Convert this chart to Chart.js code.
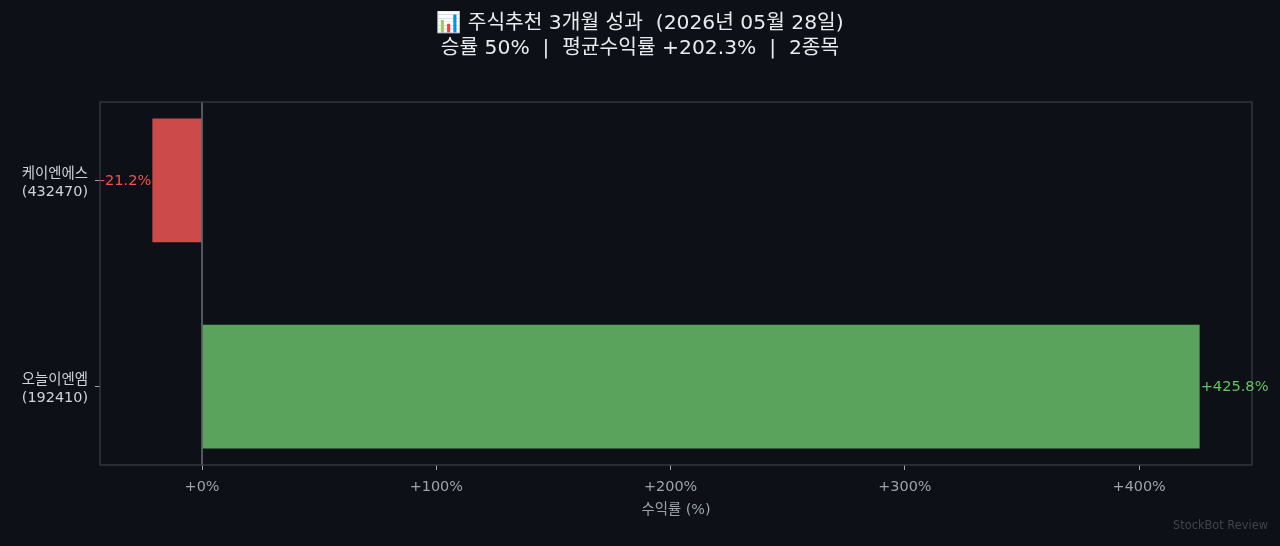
<!DOCTYPE html>
<html><head><meta charset="utf-8">
<script src="https://cdn.jsdelivr.net/npm/chart.js@4"></script>
<style>html,body{margin:0;padding:0;background:#0d1017;}#wrap{width:1280px;height:546px;}</style>
</head><body><div id="wrap"><canvas id="c" width="1280" height="546"></canvas></div>
<script>
const titleLines = ["📊 주식추천 3개월 성과  (2026년 05월 28일)", "승률 50%  |  평균수익률 +202.3%  |  2종목"];
const stockNames = ["케이엔에스", "오늘이엔엠"];
const stockCodes = ["(432470)", "(192410)"];
const returns = [-21.2, 425.8];
const xTicks = [0, 100, 200, 300, 400];
const xTitle = "수익률 (%)";
const watermark = "StockBot Review";

const FONT = "'DejaVu Sans', 'Noto Sans CJK KR', sans-serif";
const barColors = returns.map(v => v >= 0 ? '#5aa35c' : '#cc4a4a');
const labelColors = returns.map(v => v >= 0 ? '#62c462' : '#f0524c');
const fmt = v => (v >= 0 ? '+' : '') + v.toFixed(1) + '%';

const lo = Math.min(0, ...returns), hi = Math.max(0, ...returns);
const span = hi - lo;
const xMin = lo - span * 0.05, xMax = hi + span * 0.05;

const decor = {
  id: 'decor',
  beforeDraw(chart) {
    const ctx = chart.ctx;
    ctx.save();
    ctx.fillStyle = '#0d1017';
    ctx.fillRect(0, 0, chart.width, chart.height);
    ctx.restore();
  },
  afterDatasetsDraw(chart) {
    const ctx = chart.ctx, a = chart.chartArea, xs = chart.scales.x;
    ctx.save();
    const x0 = xs.getPixelForValue(0);
    ctx.strokeStyle = '#6b7078'; ctx.lineWidth = 1.5;
    ctx.beginPath(); ctx.moveTo(x0, a.top); ctx.lineTo(x0, a.bottom); ctx.stroke();
    ctx.strokeStyle = '#3a3e47'; ctx.lineWidth = 1.2;
    ctx.strokeRect(a.left, a.top, a.right - a.left, a.bottom - a.top);
    ctx.font = '14.6px ' + FONT; ctx.textBaseline = 'middle';
    const meta = chart.getDatasetMeta(0);
    returns.forEach((v, i) => {
      const el = meta.data[i];
      ctx.fillStyle = labelColors[i];
      ctx.textAlign = v >= 0 ? 'left' : 'right';
      ctx.fillText(fmt(v), el.x + (v >= 0 ? 1 : -1), el.y + 1);
    });
    ctx.fillStyle = '#e8eaed'; ctx.textAlign = 'center';
    ctx.font = '20.3px ' + FONT;
    ctx.fillText(titleLines[0], 640, 24);
    ctx.fillText(titleLines[1], 640, 49);
    ctx.fillStyle = '#40444c'; ctx.font = '11.4px ' + FONT; ctx.textAlign = 'right';
    ctx.fillText(watermark, 1268, 526);
    ctx.restore();
  }
};

new Chart(document.getElementById('c'), {
  type: 'bar',
  data: {
    datasets: [{
      data: returns.map((v, i) => ({ x: v, y: i })),
      backgroundColor: barColors,
      borderWidth: 0,
      barPercentage: 0.6,
      categoryPercentage: 1.0
    }]
  },
  options: {
    indexAxis: 'y',
    responsive: false,
    animation: false,
    devicePixelRatio: 1,
    layout: { padding: { left: 0, right: 28, top: 102, bottom: 27 } },
    plugins: { legend: { display: false }, tooltip: { enabled: false } },
    scales: {
      x: {
        type: 'linear', min: xMin, max: xMax, offset: false,
        afterBuildTicks: s => { s.ticks = xTicks.map(v => ({ value: v })); },
        afterFit: s => { s.height = 54; },
        ticks: { color: '#9ea3ab', font: { family: FONT, size: 14.4 }, padding: 9,
          callback: v => (v >= 0 ? '+' : '') + v + '%' },
        grid: { offset: false, drawOnChartArea: false, drawTicks: true, tickLength: 5, tickColor: '#9ea3ab', color: 'transparent' },
        border: { display: false },
        title: { display: true, text: xTitle, color: '#9ea3ab', font: { family: FONT, size: 14.4 }, padding: { top: 0, bottom: 0 } }
      },
      y: {
        type: 'linear', min: -0.38, max: 1.38, reverse: true, offset: false,
        afterBuildTicks: s => { s.ticks = stockNames.map((_, i) => ({ value: i })); },
        afterFit: s => { s.width = 100; },
        ticks: { color: '#d0d3d8', font: { family: FONT, size: 14.4, lineHeight: 1.25 }, padding: 7, labelOffset: 3,
          callback: v => [stockNames[v], stockCodes[v]] },
        grid: { offset: false, drawOnChartArea: false, drawTicks: true, tickLength: 5, tickColor: '#9ea3ab', color: 'transparent' },
        border: { display: false }
      }
    }
  },
  plugins: [decor]
});
</script></body></html>
